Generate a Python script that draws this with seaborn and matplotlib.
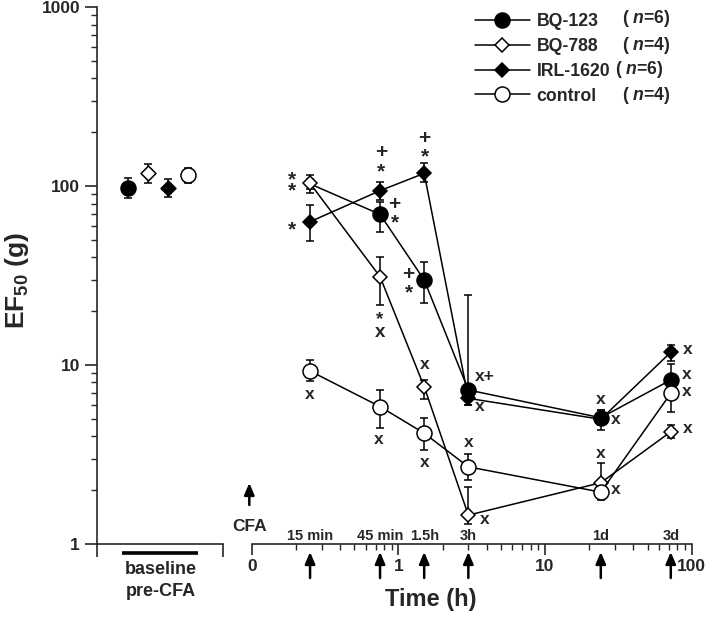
import numpy as np
import pandas as pd
import matplotlib
matplotlib.use("Agg")
import matplotlib.pyplot as plt
import seaborn as sns
from matplotlib.lines import Line2D
from matplotlib.ticker import NullFormatter

# ---------------- data ----------------
times_h = [0.25, 0.75, 1.5, 3, 24, 72]
time_labels = ["15 min", "45 min", "1.5h", "3h", "1d", "3d"]
series_names = ["BQ-123", "BQ-788", "IRL-1620", "control"]
series_n = [6, 4, 6, 4]

bq123_mean = [103, 69.6, 29.9, 7.26, 5.08, 8.26]
bq123_lo = [97, 55.7, 22.1, 6.0, 4.6, 7.3]
bq123_hi = [110, 82, 37.8, 24.6, 5.6, 10.2]

bq788_mean = [103.8, 31.2, 7.57, 1.45, 2.20, 4.24]
bq788_lo = [91.3, 21.7, 6.46, 1.3, 1.95, 3.9]
bq788_hi = [115.5, 40.4, 8.26, 2.09, 2.84, 4.6]

irl_mean = [63.3, 94.4, 118, 6.52, 4.98, 11.8]
irl_lo = [49.6, 84, 105, 6.0, 4.34, 10.6]
irl_hi = [78.5, 106, 134, 7.1, 5.6, 13.0]

ctrl_mean = [9.27, 5.86, 4.16, 2.70, 1.95, 6.95]
ctrl_lo = [8.15, 4.45, 3.35, 2.28, 1.76, 5.49]
ctrl_hi = [10.7, 7.26, 5.06, 3.18, 2.1, 7.7]

baseline_mean = [97.3, 118.1, 97.3, 115.5]
baseline_lo = [85.5, 103.8, 87.4, 103.8]
baseline_hi = [110.7, 133, 109.3, 126]

ytick_values = [1, 10, 100, 1000]
ytick_labels = ["1", "10", "100", "1000"]
xtick_values = [0.1, 1, 10, 100]
xtick_labels = ["0", "1", "10", "100"]

# significance marks: (series idx, time idx, text, fontsize, linespacing, dx px, dy px)
marks = [
    (2, 0, "*", 15, 1.0, -18, -8.2),
    (1, 0, "*\n*", 15, 0.46, -18, -1.7),
    (2, 1, "+\n*", 15, 1.0, 1.2, 28.5),
    (0, 1, "+\n*", 15, 1.0, 14.6, 0.8),
    (2, 2, "+\n*", 15, 1.0, 0.4, 25.6),
    (0, 2, "+\n*", 15, 1.0, -15.5, -3.5),
    (1, 1, "*\nx", 13.5, 0.63, 0, -49.3),
    (3, 0, "x", 12.5, 1.0, 0, -24),
    (3, 1, "x", 12.5, 1.0, -1, -33.3),
    (1, 2, "x", 12.5, 1.0, 0, 22.4),
    (3, 2, "x", 12.5, 1.0, 0, -29),
    (3, 3, "x", 12.5, 1.0, 0, 24),
    (1, 3, "x", 12.5, 1.0, 16.7, -4.3),
    (0, 3, "x+", 12.5, 1.0, 16.7, 13.3),
    (2, 3, "x", 12.5, 1.0, 11.7, -8.4),
    (2, 4, "x", 12.5, 1.0, 0, 20),
    (2, 4, "x", 12.5, 1.0, 14.4, -0.7),
    (1, 4, "x", 12.5, 1.0, 0, 29.4),
    (3, 4, "x", 12.5, 1.0, 14.4, 2.3),
    (2, 5, "x", 12.5, 1.0, 16.7, 2.3),
    (0, 5, "x", 12.5, 1.0, 16, 5.7),
    (3, 5, "x", 12.5, 1.0, 16, 1.6),
    (1, 5, "x", 12.5, 1.0, 16.7, 3.4),
]

means = [bq123_mean, bq788_mean, irl_mean, ctrl_mean]
los = [bq123_lo, bq788_lo, irl_lo, ctrl_lo]
his = [bq123_hi, bq788_hi, irl_hi, ctrl_hi]

# ---------------- style ----------------
sns.set_style("ticks")
plt.rcParams["font.family"] = ["Liberation Sans", "DejaVu Sans"]
plt.rcParams["font.weight"] = "bold"
plt.rcParams["mathtext.fontset"] = "custom"
plt.rcParams["mathtext.rm"] = "Liberation Sans:bold"
plt.rcParams["mathtext.bf"] = "Liberation Sans:bold"
plt.rcParams["mathtext.it"] = "Liberation Sans:italic:bold"
plt.rcParams["axes.linewidth"] = 1.2

markers = ["o", "D", "D", "o"]
faces = ["black", "white", "black", "white"]
msizes = [10.8, 7.6, 7.6, 10.8]
draw_order = [0, 2, 1, 3]

W, H = 712, 619
fig = plt.figure(figsize=(W / 100, H / 100), dpi=100)
y_top, y_bot = 7.3, 544.0
axL = fig.add_axes([96.7 / W, 1 - y_bot / H, (223 - 96.7) / W, (y_bot - y_top) / H])
axR = fig.add_axes([251.7 / W, 1 - y_bot / H, (691.7 - 251.7) / W, (y_bot - y_top) / H],
                   sharey=axL)
for a in (axL, axR):
    a.patch.set_alpha(0)
    a.spines["top"].set_visible(False)
    a.spines["right"].set_visible(False)
axR.spines["left"].set_visible(False)

axL.set_yscale("log")
axL.set_ylim(1, 1000)
axR.set_xscale("log")
axR.set_xlim(0.1, 100)

# ---------------- baseline panel ----------------
base_pos = np.arange(len(baseline_mean))
axL.set_xlim(-1.57, 4.73)
for i in range(4):
    m = baseline_mean[i]
    axL.errorbar([base_pos[i]], [m], yerr=[[m - baseline_lo[i]], [baseline_hi[i] - m]],
                 fmt="none", ecolor="black", elinewidth=1.1, capsize=3, capthick=1.1, zorder=2)
    sns.scatterplot(x=[base_pos[i]], y=[m], ax=axL, marker=markers[i],
                    s=msizes[i] ** 2, color=faces[i], edgecolor="black",
                    linewidth=1.1, zorder=3, legend=False)

# ---------------- time-course panel ----------------
for i in draw_order:
    df = pd.DataFrame({"time": times_h, "ef50": means[i]})
    m = np.array(means[i])
    axR.errorbar(times_h, m, yerr=[m - np.array(los[i]), np.array(his[i]) - m],
                 fmt="none", ecolor="black", elinewidth=1.1, capsize=3, capthick=1.1, zorder=2)
    kw = {}
    if i == 0:
        kw["markevery"] = [1, 2, 3, 4, 5]
    sns.lineplot(data=df, x="time", y="ef50", ax=axR, color="black", linewidth=1.1,
                 marker=markers[i], markersize=msizes[i], markerfacecolor=faces[i],
                 markeredgecolor="black", markeredgewidth=1.1, zorder=3,
                 errorbar=None, legend=False, **kw)

for (si, ti, txt, fs, ls, dx, dy) in marks:
    axR.annotate(txt, xy=(times_h[ti], means[si][ti]), xytext=(dx, dy),
                 textcoords="offset pixels", ha="center", va="center",
                 multialignment="center", linespacing=ls,
                 fontsize=fs, fontweight="bold", annotation_clip=False)

# ---------------- axes ticks/labels ----------------
axL.set_yticks(ytick_values)
axL.set_yticklabels(ytick_labels)
axL.yaxis.set_minor_formatter(NullFormatter())
axL.set_xticks([-1.57, 4.73])
axL.set_xticklabels(["", ""])
axL.tick_params(axis="both", which="major", direction="out", length=9, width=1.2,
                labelsize=12.5, pad=3)
axL.tick_params(axis="both", which="minor", direction="out", length=4.5, width=1.0)
axL.tick_params(axis="x", which="minor", bottom=False)
for lab in axL.get_yticklabels():
    lab.set_fontweight("bold")

axR.set_xticks(xtick_values)
axR.set_xticklabels(xtick_labels)
axR.xaxis.set_minor_formatter(NullFormatter())
axR.tick_params(axis="y", which="both", left=False, labelleft=False)
axR.tick_params(axis="x", which="major", direction="out", length=8, width=1.2,
                labelsize=12.5, pad=3)
axR.tick_params(axis="x", which="minor", direction="out", length=4, width=1.0)
for lab in axR.get_xticklabels():
    lab.set_fontweight("bold")

axL.set_ylabel(r"EF$_{\mathbf{50}}$ (g)", fontsize=19, fontweight="bold")
axL.yaxis.set_label_coords(-0.52, 0.49)
axR.set_ylabel("")
axR.set_xlabel("Time (h)", fontsize=17, fontweight="bold")
axR.xaxis.set_label_coords(0.406, -0.082)
axL.set_xlabel("")

# baseline bar + text
axL.plot([-0.33, 3.49], [-0.0168, -0.0168], color="black", lw=2.6,
         transform=axL.get_xaxis_transform(), clip_on=False, solid_capstyle="butt")
axL.text(1.625, -0.048, "baseline", transform=axL.get_xaxis_transform(),
         ha="center", va="center", fontsize=13, fontweight="bold")
axL.text(1.625, -0.088, "pre-CFA", transform=axL.get_xaxis_transform(),
         ha="center", va="center", fontsize=13, fontweight="bold")

# time arrows below axis, labels above axis
tr = axR.get_xaxis_transform()
for t, lab in zip(times_h, time_labels):
    axR.annotate("", xy=(t, -0.0149), xycoords=tr, xytext=(t, -0.0633), textcoords=tr,
                 arrowprops=dict(arrowstyle="-|>,head_length=0.7,head_width=0.3",
                                 color="black", lw=1.8, shrinkA=0, shrinkB=0),
                 annotation_clip=False)
    axR.text(t, 0.0075, lab, transform=tr, ha="center", va="baseline",
             fontsize=10.5, fontweight="bold")

# CFA arrow
axR.annotate("", xy=(0.0963, 0.1137), xycoords=tr, xytext=(0.0963, 0.0727), textcoords=tr,
             arrowprops=dict(arrowstyle="-|>,head_length=0.7,head_width=0.3",
                             color="black", lw=1.8, shrinkA=0, shrinkB=0),
             annotation_clip=False)
axR.text(0.0963, 0.0322, "CFA", transform=tr, ha="center", va="center",
         fontsize=12.5, fontweight="bold")

# legend
handles = [Line2D([], [], color="black", lw=1.1, marker=markers[i], markersize=msizes[i],
                  markerfacecolor=faces[i], markeredgecolor="black", markeredgewidth=1.1)
           for i in range(4)]
leg = fig.legend(handles, series_names, loc="upper left",
                 bbox_to_anchor=(475 / W, 1 - 12.8 / H), frameon=False,
                 fontsize=12.7, handlelength=3.1, handletextpad=0.4,
                 labelspacing=0.45, borderpad=0, borderaxespad=0)
for txt in leg.get_texts():
    txt.set_fontweight("bold")
row_y = [18.3, 45, 70, 95]
row_x = [622, 622, 615, 622]
for i in range(4):
    fig.text(row_x[i] / W, 1 - row_y[i] / H, r"( $\mathit{n}$=%d)" % series_n[i],
             ha="left", va="center", fontsize=12.7, fontweight="bold")

fig.savefig("out.png", dpi=100)
